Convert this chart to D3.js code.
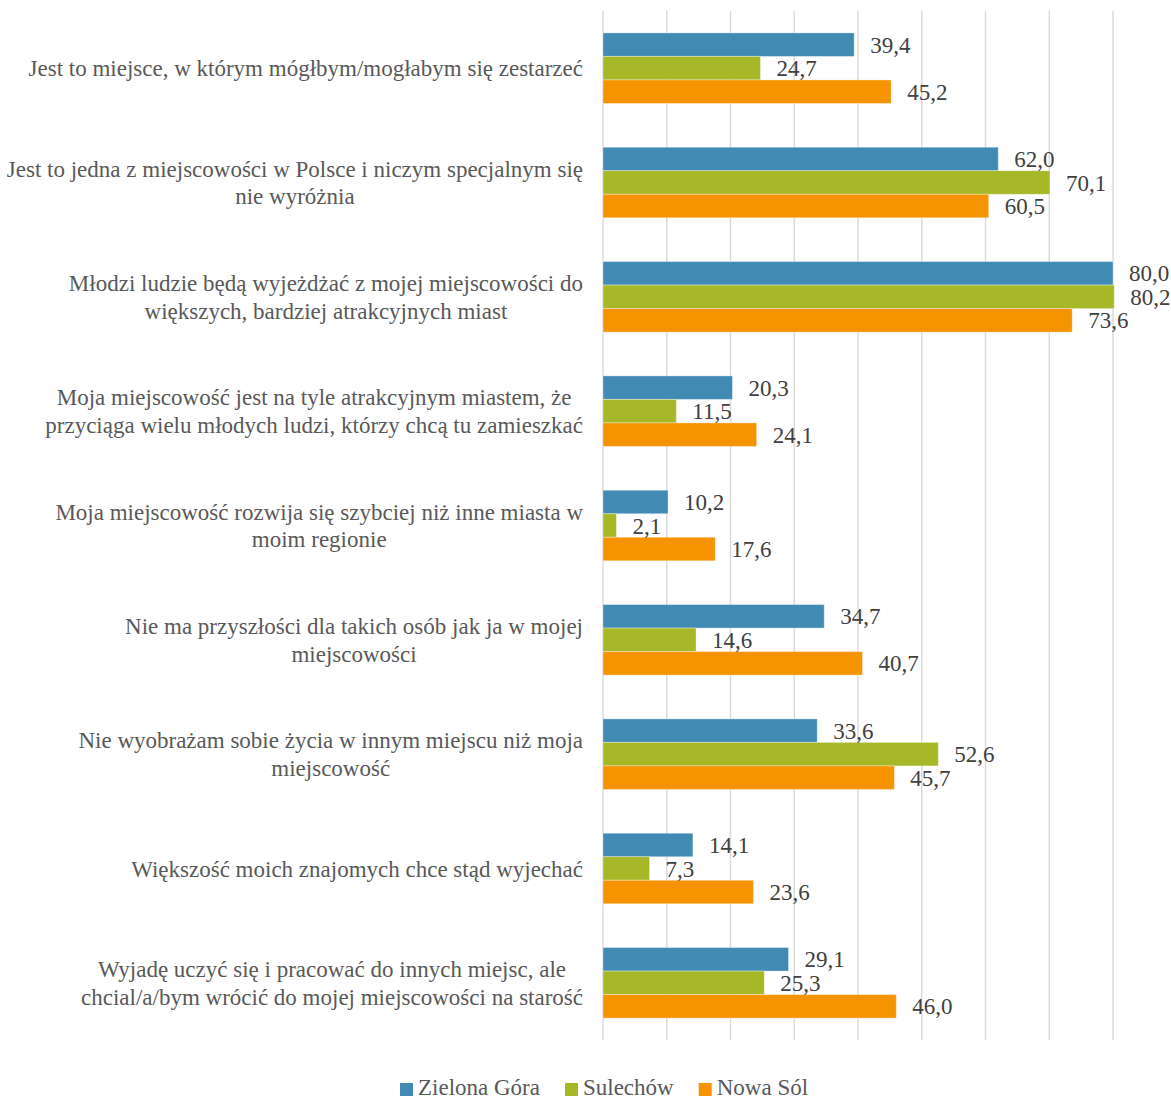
<!DOCTYPE html>
<html><head><meta charset="utf-8">
<script src="https://cdn.jsdelivr.net/npm/d3@7"></script>
<style>body{margin:0;background:#fff}svg{display:block}svg text{font-family:"Liberation Serif","Times New Roman",serif}</style>
</head><body><svg id="c" width="1171" height="1099"></svg>
<script>
const categories = [
  ["Jest to miejsce, w którym mógłbym/mogłabym się zestarzeć"],
  ["Jest to jedna z miejscowości w Polsce i niczym specjalnym się","nie wyróżnia"],
  ["Młodzi ludzie będą wyjeżdżać z mojej miejscowości do","większych, bardziej atrakcyjnych miast"],
  ["Moja miejscowość jest na tyle atrakcyjnym miastem, że","przyciąga wielu młodych ludzi, którzy chcą tu zamieszkać"],
  ["Moja miejscowość rozwija się szybciej niż inne miasta w","moim regionie"],
  ["Nie ma przyszłości dla takich osób jak ja w mojej","miejscowości"],
  ["Nie wyobrażam sobie życia w innym miejscu niż moja","miejscowość"],
  ["Większość moich znajomych chce stąd wyjechać"],
  ["Wyjadę uczyć się i pracować do innych miejsc, ale","chcial/a/bym wrócić do mojej miejscowości na starość"]
];
const seriesNames = ["Zielona Góra","Sulechów","Nowa Sól"];
const zielonaGora = [39.4,62.0,80.0,20.3,10.2,34.7,33.6,14.1,29.1];
const sulechow    = [24.7,70.1,80.2,11.5,2.1,14.6,52.6,7.3,25.3];
const nowaSol     = [45.2,60.5,73.6,24.1,17.6,40.7,45.7,23.6,46.0];
const colors = ["#418AB3","#A6B727","#F59300"];
const ticks = [0,10,20,30,40,50,60,70,80,90];

const series = [zielonaGora, sulechow, nowaSol];
const svg = d3.select("#c");
const FS = 23;

const x = d3.scaleLinear().domain([0,90]).range([603, 603 + 90*6.375]);
const y = d3.scaleBand().domain(d3.range(categories.length)).range([11,1040]).paddingInner(0.383).paddingOuter(0.383/2);
const ys = d3.scaleBand().domain(d3.range(3)).range([0, y.bandwidth()]);

// gridlines
svg.append("g").selectAll("line").data(ticks).join("line")
  .attr("x1", d=>x(d)).attr("x2", d=>x(d)).attr("y1", 11).attr("y2", 1040)
  .attr("stroke", "#D9D9D9").attr("stroke-width", 1.4);

// bars
const groups = svg.append("g").selectAll("g").data(categories).join("g")
  .attr("transform", (d,i)=>`translate(0,${y(i)})`);
groups.each(function(c, i){
  const g = d3.select(this);
  series.forEach((s, k) => {
    g.append("rect").attr("x", x(0)).attr("y", ys(k))
      .attr("width", x(s[i]) - x(0)).attr("height", ys.bandwidth())
      .attr("fill", colors[k]).attr("stroke", "#fff").attr("stroke-opacity",0.35).attr("stroke-width",1);
  });
  series.forEach((s, k) => {
    g.append("text").attr("x", x(s[i]) + 16).attr("y", ys(k) + ys.bandwidth()/2)
      .attr("dy", "0.35em").attr("font-size", FS)
      .attr("fill", "#404040")
      .text(s[i].toFixed(1).replace(".", ","));
  });
});

// category labels
categories.forEach((lines, i) => {
  const cy = y(i) + y.bandwidth()/2;
  const lh = 27.5;
  const g = svg.append("g");
  const texts = lines.map((l, j) => g.append("text")
    .attr("font-size", FS).attr("fill", "#595959")
    .attr("text-anchor", "middle")
    .attr("y", cy + (j - (lines.length-1)/2)*lh).attr("dy","0.35em").text(l));
  const maxW = d3.max(texts, t => t.node().getComputedTextLength());
  texts.forEach(t => t.attr("x", 583 - maxW/2));
});

// legend
const legend = svg.append("g");
let lx = 400;
seriesNames.forEach((n, k) => {
  legend.append("rect").attr("x", lx).attr("y", 1083).attr("width", 13).attr("height", 13).attr("fill", colors[k]);
  const t = legend.append("text").attr("x", lx + 18).attr("y", 1095)
    .attr("font-size", FS).attr("fill", "#595959").text(n);
  lx += 18 + t.node().getComputedTextLength() + 25;
});
</script></body></html>
